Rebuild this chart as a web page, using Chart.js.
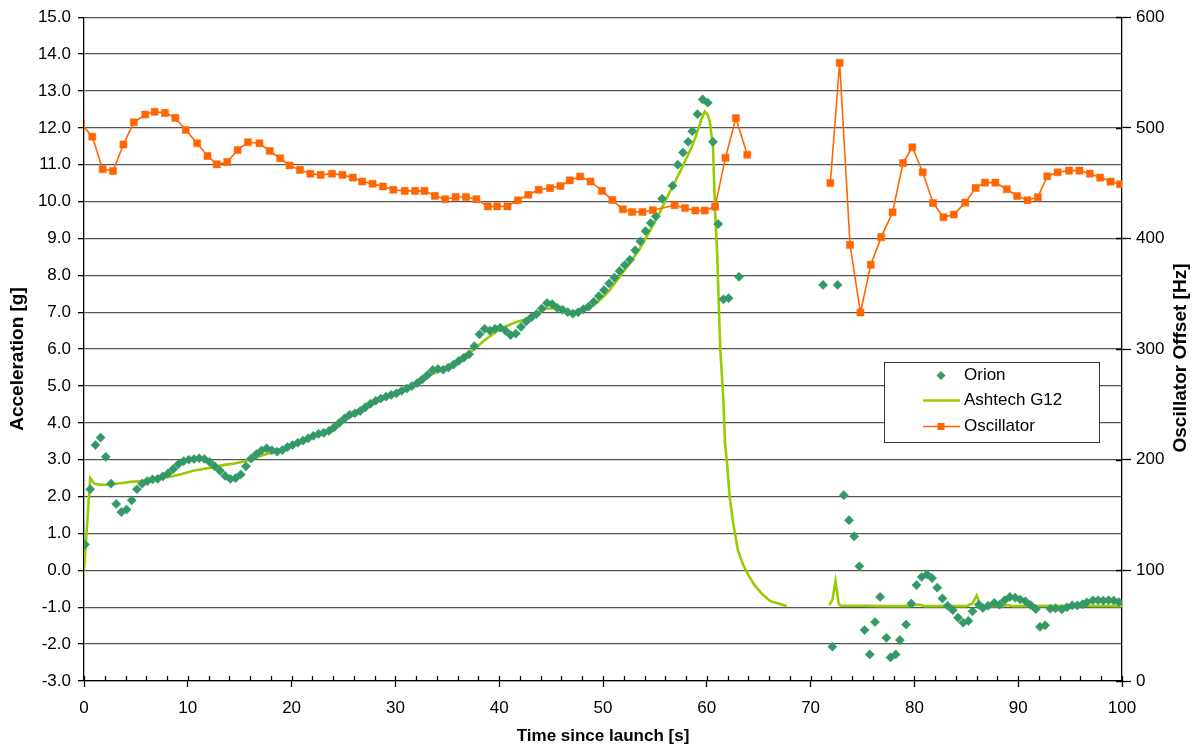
<!DOCTYPE html>
<html>
<head>
<meta charset="utf-8">
<title>Acceleration and oscillator offset</title>
<script src="https://cdn.jsdelivr.net/npm/chart.js@4.4.1/dist/chart.umd.min.js"></script>
<style>
  html, body { margin: 0; padding: 0; background: #fff; }
  #wrap { position: relative; width: 1195px; height: 751px; }
</style>
</head>
<body>
<div id="wrap"><canvas id="flightChart" width="1195" height="751"></canvas></div>
<script>
// Launch telemetry: Orion GPS acceleration, Ashtech G12 reference, oscillator offset

const orionTime = [
    0.1, 0.6, 1.1, 1.6, 2.1, 2.6, 3.1, 3.6, 4.1, 4.6,
    5.1, 5.6, 6.1, 6.6, 7.1, 7.6, 8.1, 8.6, 9.1, 9.6,
    10.1, 10.6, 11.1, 11.6, 12.1, 12.6, 13.1, 13.6, 14.1, 14.6,
    15.1, 15.6, 16.1, 16.6, 17.1, 17.6, 18.1, 18.6, 19.1, 19.6,
    20.1, 20.6, 21.1, 21.6, 22.1, 22.6, 23.1, 23.6, 24.1, 24.6,
    25.1, 25.6, 26.1, 26.6, 27.1, 27.6, 28.1, 28.6, 29.1, 29.6,
    30.1, 30.6, 31.1, 31.6, 32.1, 32.6, 33.1, 33.6, 34.1, 34.6,
    35.1, 35.6, 36.1, 36.6, 37.1, 37.6, 38.1, 38.6, 39.1, 39.6,
    40.1, 40.6, 41.1, 41.6, 42.1, 42.6, 43.1, 43.6, 44.1, 44.6,
    45.1, 45.6, 46.1, 46.6, 47.1, 47.6, 48.1, 48.6, 49.1, 49.6,
    50.1, 50.6, 51.1, 51.6, 52.1, 52.6, 53.1, 53.6, 54.1, 54.6,
    55.1, 55.7, 56.7, 57.2, 57.7, 58.2, 58.6, 59.1, 59.6, 60.1,
    60.6, 61.1, 61.6, 62.1, 63.1,
    71.2, 72.1, 72.6, 73.2, 73.7, 74.2, 74.7, 75.2, 75.7, 76.2,
    76.7, 77.3, 77.7, 78.2, 78.6, 79.2, 79.7, 80.2, 80.7, 81.2,
    81.7, 82.2, 82.7, 83.2, 83.7, 84.2, 84.7, 85.2, 85.6, 86.2,
    86.6, 87.1, 87.7, 88.2, 88.7, 89.2, 89.7, 90.2, 90.7, 91.2,
    91.7, 92.1, 92.6, 93.1, 93.6, 94.2, 94.7, 95.2, 95.7, 96.2,
    96.6, 97.2, 97.7, 98.2, 98.7, 99.2, 99.7
];
const orionAccel = [
    0.70, 2.20, 3.40, 3.60, 3.08, 2.35, 1.80, 1.58, 1.65, 1.90,
    2.20, 2.35, 2.42, 2.47, 2.48, 2.55, 2.63, 2.75, 2.88, 2.96,
    3.00, 3.02, 3.04, 3.02, 2.94, 2.82, 2.70, 2.56, 2.48, 2.50,
    2.60, 2.82, 3.03, 3.15, 3.25, 3.31, 3.26, 3.22, 3.26, 3.34,
    3.40, 3.46, 3.52, 3.58, 3.65, 3.70, 3.73, 3.78, 3.88, 4.00,
    4.12, 4.22, 4.26, 4.32, 4.42, 4.52, 4.60, 4.66, 4.71, 4.76,
    4.80, 4.87, 4.93, 5.00, 5.08, 5.18, 5.30, 5.43, 5.46, 5.44,
    5.50, 5.58, 5.68, 5.77, 5.86, 6.08, 6.40, 6.55, 6.50, 6.55,
    6.58, 6.50, 6.38, 6.42, 6.60, 6.75, 6.86, 6.95, 7.10, 7.25,
    7.22, 7.12, 7.07, 7.00, 6.96, 7.00, 7.08, 7.15, 7.28, 7.44,
    7.60, 7.78, 7.94, 8.12, 8.28, 8.42, 8.68, 8.92, 9.20, 9.42,
    9.60, 10.08, 10.43, 11.00, 11.33, 11.62, 11.91, 12.37, 12.77, 12.68,
    11.62, 9.39, 7.35, 7.38, 7.96,
    7.74, -2.07, 7.74, 2.04, 1.36, 0.92, 0.11, -1.62, -2.28, -1.40,
    -0.72, -1.83, -2.36, -2.28, -1.89, -1.47, -0.90, -0.40, -0.18, -0.11,
    -0.21, -0.47, -0.76, -0.96, -1.08, -1.28, -1.42, -1.37, -1.11, -0.93,
    -1.02, -0.96, -0.88, -0.93, -0.81, -0.72, -0.74, -0.79, -0.84, -0.94,
    -1.05, -1.53, -1.49, -1.04, -1.03, -1.06, -1.00, -0.95, -0.95, -0.92,
    -0.87, -0.81, -0.81, -0.82, -0.81, -0.82, -0.86
];

const ashtechTime = [
    0.0, 0.6, 1.0, 1.5, 2.5, 3.5, 4.5, 5.5, 6.5, 7.5,
    8.5, 9.5, 10.5, 11.5, 12.5, 13.5, 14.5, 15.5, 16.5, 17.5,
    18.5, 19.5, 20.5, 21.5, 22.5, 23.5, 24.5, 25.5, 26.5, 27.5,
    28.5, 29.5, 30.5, 31.5, 32.5, 33.5, 34.5, 35.5, 36.5, 37.5,
    38.5, 39.5, 40.5, 41.5, 42.5, 43.5, 44.5, 45.5, 46.5, 47.5,
    48.5, 49.5, 50.5, 51.5, 52.5, 53.5, 54.5, 55.5, 56.5, 57.5,
    58.5, 59.0, 59.5, 59.8, 60.1, 60.3, 60.6, 60.8, 61.0, 61.2,
    61.3, 61.6, 61.75, 61.95, 62.2, 62.55, 63.0, 63.5, 64.0, 64.6,
    65.3, 66.1, 66.9, 67.7, 69.8,
    71.8, 72.1, 72.4, 72.7, 72.9, 75.0, 77.0, 79.5, 80.0, 80.5,
    81.0, 85.0, 85.6, 86.0, 86.4, 88.5, 89.0, 89.5, 95.0, 100.0
];
const ashtechAccel = [
    0.00, 2.50, 2.35, 2.32, 2.32, 2.36, 2.40, 2.42, 2.47, 2.50,
    2.55, 2.62, 2.70, 2.75, 2.80, 2.86, 2.90, 2.96, 3.05, 3.15,
    3.22, 3.32, 3.44, 3.56, 3.67, 3.78, 3.96, 4.15, 4.28, 4.47,
    4.63, 4.73, 4.84, 4.97, 5.12, 5.32, 5.43, 5.55, 5.72, 5.98,
    6.22, 6.43, 6.60, 6.72, 6.80, 6.93, 7.10, 7.10, 7.02, 7.00,
    7.08, 7.28, 7.55, 7.92, 8.30, 8.70, 9.20, 9.72, 10.30, 10.85,
    11.45, 11.82, 12.25, 12.44, 12.35, 12.15, 11.45, 9.70, 8.60, 6.80,
    6.00, 4.60, 3.45, 2.90, 2.00, 1.27, 0.54, 0.15, -0.13, -0.40,
    -0.63, -0.83, -0.90, -0.97, null,
    -0.95, -0.80, -0.29, -0.90, -0.96, -0.96, -0.97, -0.97, -0.94, -0.93,
    -0.97, -0.97, -0.90, -0.68, -0.97, -0.97, -0.94, -0.97, -0.96, -0.97
];

const oscTime = [
    -0.3, 0.8, 1.8, 2.8, 3.8, 4.8, 5.9, 6.8, 7.8, 8.8,
    9.8, 10.9, 11.9, 12.8, 13.8, 14.8, 15.8, 16.9, 17.9, 18.9,
    19.8, 20.8, 21.8, 22.8, 23.9, 24.9, 25.9, 26.8, 27.8, 28.8,
    29.8, 30.9, 31.9, 32.8, 33.8, 34.8, 35.8, 36.8, 37.8, 38.9,
    39.8, 40.8, 41.8, 42.8, 43.8, 44.9, 45.9, 46.8, 47.8, 48.8,
    49.9, 50.9, 51.9, 52.8, 53.8, 54.8, 56.9, 57.9, 58.9, 59.8,
    60.8, 61.8, 62.8, 63.9, 68.0,
    71.9, 72.8, 73.8, 74.8, 75.8, 76.8, 77.9, 78.9, 79.8, 80.8,
    81.8, 82.8, 83.8, 84.9, 85.9, 86.8, 87.8, 88.9, 89.9, 90.9,
    91.9, 92.8, 93.8, 94.9, 95.9, 96.9, 97.9, 98.9, 99.8, 100.8
];
const oscOffset = [
    504.0, 492.0, 462.5, 461.0, 485.0, 505.0, 512.0, 514.5, 513.5, 509.0,
    498.0, 486.0, 474.5, 467.0, 469.0, 480.0, 487.0, 486.0, 479.0, 472.5,
    466.0, 462.0, 458.5, 457.5, 458.5, 457.5, 455.0, 451.5, 449.5, 447.0,
    444.0, 443.0, 443.0, 443.0, 438.5, 435.5, 437.5, 437.5, 435.5, 429.0,
    429.0, 429.0, 434.5, 439.5, 444.0, 445.5, 447.5, 452.5, 456.0, 451.5,
    443.0, 434.7, 426.4, 424.0, 424.0, 425.5, 430.0, 427.6, 425.2, 425.2,
    428.8, 473.0, 508.8, 475.7, null,
    450.2, 558.8, 394.2, 333.1, 376.2, 401.2, 423.7, 468.2, 482.4, 459.8,
    432.1, 419.2, 421.6, 432.4, 445.7, 450.5, 450.5, 444.5, 438.4, 434.6,
    437.3, 456.2, 459.8, 461.3, 461.3, 458.6, 455.0, 451.4, 449.0, 446.0
];

// Axis tick values
const timeTicks = [0, 10, 20, 30, 40, 50, 60, 70, 80, 90, 100];
const accelTicks = [-3, -2, -1, 0, 1, 2, 3, 4, 5, 6, 7, 8, 9, 10, 11, 12, 13, 14, 15];
const offsetTicks = [0, 100, 200, 300, 400, 500, 600];

const FONT = "'Liberation Sans', Arial, Helvetica, sans-serif";
const colors = {
    orion: '#339966',
    ashtech: '#99CC00',
    osc: '#FF6600',
    grid: '#555555',
    axis: '#000000'
};

Chart.defaults.font.family = FONT;
Chart.defaults.font.size = 17;
Chart.defaults.color = '#000';

function toPoints(xs, ys) {
    return xs.map(function(x, i) { return { x: x, y: ys[i] }; });
}

function fixTicks(values) {
    return function(scale) {
        scale.ticks = values.map(function(v) { return { value: v }; });
    };
}

/**
 * Minor tick marks on the time axis, inner ticks on the right axis
 * and the two rotated axis titles
 */
const axisDecor = {
    id: 'axisDecor',
    afterDraw: function(chart) {
        const ctx = chart.ctx;
        const area = chart.chartArea;
        const x = chart.scales.x;
        const y2 = chart.scales.y2;

        ctx.save();
        ctx.strokeStyle = colors.axis;
        ctx.lineWidth = 1.3;
        ctx.beginPath();
        for (let t = x.min; t <= x.max; t += 2) {
            const px = Math.round(x.getPixelForValue(t)) + 0.5;
            ctx.moveTo(px, area.bottom);
            ctx.lineTo(px, area.bottom - 5);
        }
        offsetTicks.forEach(function(v) {
            const py = Math.round(y2.getPixelForValue(v)) + 0.5;
            ctx.moveTo(area.right, py);
            ctx.lineTo(area.right - 6, py);
        });
        ctx.stroke();

        ctx.fillStyle = '#000';
        ctx.font = 'bold 19px ' + FONT;
        ctx.textAlign = 'center';
        ctx.textBaseline = 'middle';
        [['Acceleration [g]', 18, 359], ['Oscillator Offset [Hz]', 1181, 358]].forEach(function(t) {
            ctx.save();
            ctx.translate(t[1], t[2]);
            ctx.rotate(-Math.PI / 2);
            ctx.fillText(t[0], 0, 0);
            ctx.restore();
        });
        ctx.restore();
    }
};

/**
 * Boxed legend inside the plot area
 */
const legendBox = {
    id: 'legendBox',
    afterDraw: function(chart) {
        const ctx = chart.ctx;
        const box = { x: 884.5, y: 362.5, w: 215, h: 80 };
        const rows = [375.5, 400.5, 426.5];
        const mx = 941;

        ctx.save();
        ctx.fillStyle = '#fff';
        ctx.fillRect(box.x, box.y, box.w, box.h);
        ctx.strokeStyle = '#333';
        ctx.lineWidth = 1;
        ctx.strokeRect(box.x, box.y, box.w, box.h);

        // Orion: diamond marker only
        ctx.fillStyle = colors.orion;
        ctx.beginPath();
        ctx.moveTo(mx, rows[0] - 4.5);
        ctx.lineTo(mx + 4.5, rows[0]);
        ctx.lineTo(mx, rows[0] + 4.5);
        ctx.lineTo(mx - 4.5, rows[0]);
        ctx.closePath();
        ctx.fill();

        // Ashtech: line only
        ctx.strokeStyle = colors.ashtech;
        ctx.lineWidth = 2.5;
        ctx.beginPath();
        ctx.moveTo(923, rows[1]);
        ctx.lineTo(960, rows[1]);
        ctx.stroke();

        // Oscillator: line with square marker
        ctx.strokeStyle = colors.osc;
        ctx.lineWidth = 1.5;
        ctx.beginPath();
        ctx.moveTo(923, rows[2]);
        ctx.lineTo(960, rows[2]);
        ctx.stroke();
        ctx.fillStyle = colors.osc;
        ctx.fillRect(mx - 3.5, rows[2] - 3.5, 7, 7);

        ctx.fillStyle = '#000';
        ctx.font = '17px ' + FONT;
        ctx.textAlign = 'left';
        ctx.textBaseline = 'middle';
        chart.data.datasets.forEach(function(ds, i) {
            ctx.fillText(ds.label, 964, rows[i]);
        });
        ctx.restore();
    }
};

const flightChart = new Chart(document.getElementById('flightChart'), {
    type: 'line',
    data: {
        datasets: [{
            label: 'Orion',
            data: toPoints(orionTime, orionAccel),
            yAxisID: 'y',
            showLine: false,
            pointStyle: 'rectRot',
            pointRadius: 4.6,
            pointBackgroundColor: colors.orion,
            pointBorderColor: colors.orion,
            pointBorderWidth: 0.5,
            order: 1
        }, {
            label: 'Ashtech G12',
            data: toPoints(ashtechTime, ashtechAccel),
            yAxisID: 'y',
            borderColor: colors.ashtech,
            borderWidth: 2.6,
            pointRadius: 0,
            spanGaps: false,
            tension: 0,
            order: 2
        }, {
            label: 'Oscillator',
            data: toPoints(oscTime, oscOffset),
            yAxisID: 'y2',
            borderColor: colors.osc,
            borderWidth: 1.6,
            pointStyle: 'rect',
            pointRadius: 5,
            pointBackgroundColor: colors.osc,
            pointBorderColor: colors.osc,
            pointBorderWidth: 0.5,
            spanGaps: false,
            clip: 0,
            order: 0
        }]
    },
    options: {
        responsive: false,
        animation: false,
        events: [],
        layout: { padding: { top: 16, left: 0, right: 0, bottom: 0 } },
        plugins: {
            legend: { display: false },
            tooltip: { enabled: false }
        },
        scales: {
            x: {
                type: 'linear',
                position: 'bottom',
                min: 0,
                max: 100,
                afterBuildTicks: fixTicks(timeTicks),
                afterFit: function(scale) { scale.height = 70; },
                ticks: { padding: 11, maxRotation: 0 },
                grid: { drawOnChartArea: false, tickLength: 6, tickColor: colors.axis, tickWidth: 1.3 },
                border: { color: colors.axis, width: 1.3 },
                title: {
                    display: true,
                    text: 'Time since launch [s]',
                    font: { weight: 'bold', size: 17 },
                    padding: { top: 0, bottom: 4 }
                }
            },
            y: {
                position: 'left',
                min: -3,
                max: 15,
                afterBuildTicks: fixTicks(accelTicks),
                afterFit: function(scale) { scale.width = 84; },
                ticks: {
                    padding: 7,
                    callback: function(v) { return v.toFixed(1); }
                },
                grid: { color: colors.grid, lineWidth: 1.3, tickLength: 6, tickColor: colors.axis },
                border: { color: colors.axis, width: 1.3 }
            },
            y2: {
                position: 'right',
                min: 0,
                max: 600,
                afterBuildTicks: fixTicks(offsetTicks),
                afterFit: function(scale) { scale.width = 73; },
                ticks: { padding: 5 },
                grid: { drawOnChartArea: false, tickLength: 9, tickColor: colors.axis, tickWidth: 1.3 },
                border: { color: colors.axis, width: 1.3 }
            }
        }
    },
    plugins: [axisDecor, legendBox]
});
</script>
</body>
</html>
